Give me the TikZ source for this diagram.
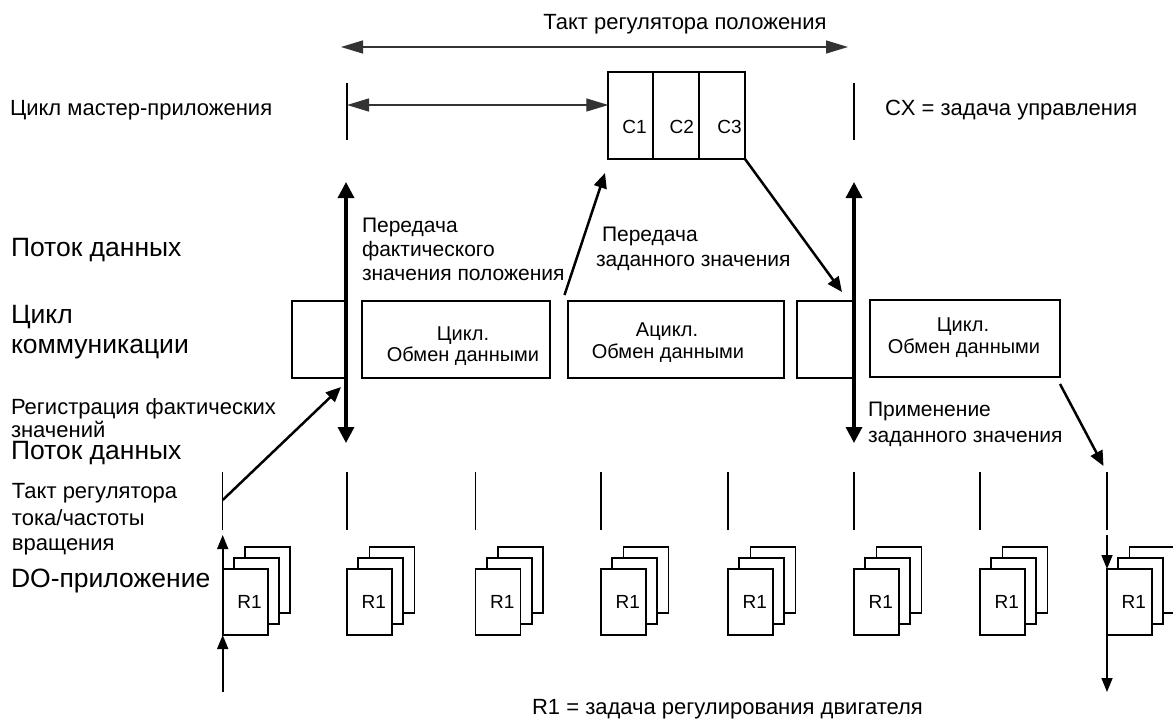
\documentclass[tikz,border=0pt]{standalone}
\usepackage{fontspec}
\setmainfont{Liberation Sans}
\usetikzlibrary{arrows.meta}
\tikzset{
  every node/.style={inner sep=0pt, outer sep=0pt, text=black},
  lbl/.style={font=\fontsize{22}{26}\selectfont, anchor=base west},
  big/.style={font=\fontsize{26.5}{30}\selectfont, anchor=base west},
  note/.style={font=\fontsize{21}{24}\selectfont, anchor=base west},
  btxt/.style={font=\fontsize{20}{22}\selectfont, anchor=base},
  clbl/.style={font=\fontsize{19}{22}\selectfont, anchor=base east},
  frame/.style={draw, line width=1.7pt, fill=white, anchor=north west},
  tickline/.style={line width=1.5pt},
  bigarrow/.style={line width=3.4pt, {Triangle[length=16pt,width=16pt]}-{Triangle[length=16pt,width=16pt]}},
  diagarrow/.style={line width=2.5pt, -{Triangle[length=15pt,width=13pt]}},
  colarrow/.style={line width=1.6pt, -{Triangle[length=14pt,width=11pt]}},
  dimarrow/.style={line width=1.3pt, draw=black!80, {Triangle[length=22pt,width=13pt]}-{Triangle[length=22pt,width=13pt]}},
}
\begin{document}
\begin{tikzpicture}[x=1pt,y=-1pt]
\useasboundingbox (0,0) rectangle (1173,718);
\clip (0,0) rectangle (1173,718);
\fill[white] (0,0) rectangle (1173,718);

% ---------- top part ----------
\node[lbl, anchor=base] (title) at (685,29.5) {Такт регулятора положения};
\coordinate (tl) at (341,47);
\coordinate (tr) at (848,47);
\draw[dimarrow] (tl) -- (tr);

\node[lbl] (master) at (10,115.7) {Цикл мастер-приложения};
\node[lbl] (cx) at (885,115.7) {CX = задача управления};

\coordinate (t1a) at (347,83);  \coordinate (t1b) at (347,140);
\coordinate (t2a) at (854,83);  \coordinate (t2b) at (854,140);
\draw[tickline] (t1a) -- (t1b);
\draw[tickline] (t2a) -- (t2b);

\node[frame, minimum width=45pt, minimum height=87.3pt] (c1) at (608.3,71.7) {};
\node[frame, minimum width=46pt, minimum height=87.3pt] (c2) at (653.3,71.7) {};
\node[frame, minimum width=45.7pt, minimum height=87.3pt] (c3) at (699.3,71.7) {};
\node[clbl] (c1l) at (646.7,133.5) {C1};
\node[clbl] (c2l) at (694,133.5) {C2};
\node[clbl] (c3l) at (741.7,133.5) {C3};

\coordinate (m1) at (347,105);
\draw[dimarrow] (m1) -- (c1.west |- m1);

% ---------- communication cycle ----------
\node[frame, minimum width=54pt, minimum height=77pt] (b1) at (292,301) {};
\node[frame, minimum width=188pt, minimum height=77pt] (b2) at (362,301) {};
\node[frame, minimum width=216pt, minimum height=77pt] (b3) at (568,301) {};
\node[frame, minimum width=57pt, minimum height=77pt] (b4) at (797,301) {};
\node[frame, minimum width=190pt, minimum height=77pt] (b5) at (870,300) {};

\node[btxt] (b2t1) at (463,340) {Цикл.};
\node[btxt] (b2t2) at (463,361) {Обмен данными};
\node[btxt] (b3t1) at (667,336) {Ацикл.};
\node[btxt] (b3t2) at (668,358) {Обмен данными};
\node[btxt] (b5t1) at (963,331.7) {Цикл.};
\node[btxt] (b5t2) at (964,353) {Обмен данными};

% thick data-flow arrows
\coordinate (f1t) at (346,182); \coordinate (f1b) at (346,443);
\coordinate (f2t) at (854,182); \coordinate (f2b) at (854,443);
\draw[bigarrow] (f1t) -- (f1b);
\draw[bigarrow] (f2t) -- (f2b);

% diagonal arrows
\coordinate (d1s) at (222.7,500); \coordinate (d1e) at (341,387);
\coordinate (d2s) at (564.5,295); \coordinate (d2e) at (605,173);
\coordinate (d3e) at (842,292);
\coordinate (d4s) at (1060,384); \coordinate (d4e) at (1103.5,466);
\draw[diagarrow] (d1s) -- (d1e);
\draw[diagarrow] (d2s) -- (d2e);
\draw[diagarrow] (c3.south east) -- (d3e);
\draw[diagarrow] (d4s) -- (d4e);

% notes
\node[note] (pf1) at (362,232.7) {Передача};
\node[note] (pf2) at (362,256.7) {фактического};
\node[note] (pf3) at (362,280) {значения положения};
\node[note] (pz1) at (602,241.7) {Передача};
\node[note] (pz2) at (596,266.7) {заданного значения};
\node[note] (ap1) at (868,416.7) {Применение};
\node[note] (ap2) at (868,442.7) {заданного значения};

% left labels
\node[big] (flow1) at (11,256) {Поток данных};
\node[big] (comm1) at (11,323) {Цикл};
\node[big] (comm2) at (11,353) {коммуникации};
\node[lbl] (reg1) at (11,414) {Регистрация фактических};
\node[lbl] (reg2) at (11,437) {значений};
\node[big] (flow2) at (11,459) {Поток данных};
\node[lbl] (tact1) at (12,498) {Такт регулятора};
\node[lbl] (tact2) at (12,525) {тока/частоты};
\node[lbl] (tact3) at (12,550) {вращения};
\node[big] (doapp) at (11,587) {DO-приложение};

% ---------- controller clock columns ----------
\foreach \c [count=\i] in {222.7,347,475.5,601,728,854,980,1107} {
  \coordinate (ka\i) at (\c,472);
  \coordinate (kb\i) at (\c,530);
  \draw[tickline] (ka\i) -- (kb\i);
  \node[frame, minimum width=45pt, minimum height=66pt] (rc\i) at (\c+22.6,547) {};
  \node[frame, minimum width=45pt, minimum height=66pt] (rb\i) at (\c+11.3,558) {};
  \node[frame, minimum width=45pt, minimum height=66pt] (ra\i) at (\c,569) {};
  \node[clbl] (rl\i) at (\c+39,608.5) {R1};
}

\coordinate (u1) at (222.7,535);
\coordinate (u0) at (222.7,692);
\draw[colarrow] (ra1.south west) -- (u1);
\draw[colarrow] (u0) -- (ra1.south west);

\coordinate (v1) at (1107,535);
\coordinate (v2) at (1107,692);
\draw[colarrow] (v1) -- (ra8.north west);
\draw[colarrow] (ra8.south west) -- (v2);

\node[lbl, anchor=base] (legend) at (727.5,714) {R1 = задача регулирования двигателя};
\end{tikzpicture}
\end{document}
